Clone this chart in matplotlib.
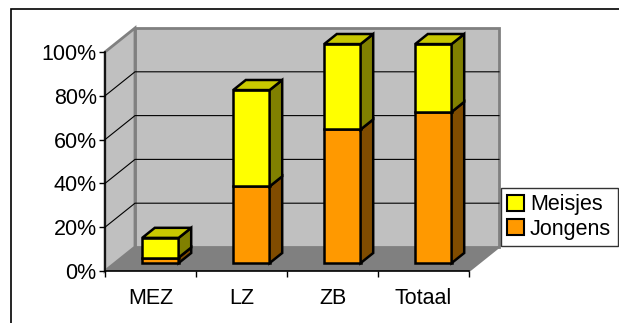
import numpy as np
import matplotlib.pyplot as plt
from matplotlib.patches import Polygon, Rectangle, Patch

plt.rcParams['font.family'] = ['Liberation Sans', 'DejaVu Sans']

categories = ['MEZ', 'LZ', 'ZB', 'Totaal']
jongens = [2.5, 35, 61, 69]
meisjes = [9, 44, 39, 31]
yticks = [0, 20, 40, 60, 80, 100]

yellow = ['#FFFF00', '#808000', '#C8C800']   # front, side, top
orange = ['#FF9900', '#804C00', '#C07300']
wall = '#C0C0C0'
floor = '#808080'
fs = 15.5

W, H = 619, 323
fig = plt.figure(figsize=(W / 100, H / 100), dpi=100)

# outer chart border
fig.patches.append(Rectangle((11 / W, -0.1), 1.2, 1.1 - 9 / H, transform=fig.transFigure,
                             fill=False, ec='black', lw=1.2))

# front plane of the plot: pixel box of the axes
left, right, bottom, top = 105, 469, 271, 52
ax = fig.add_axes([left / W, (H - bottom) / H, (right - left) / W, (bottom - top) / H])
n = len(categories)
ax.set_xlim(0, n)
ax.set_ylim(0, 100)

# depth of the box in data units (30 px right, 24 px up)
DX = n * 30 / (right - left)
DY = 100 * 24 / (bottom - top)


def poly(pts, fc, ec='none', lw=0, z=1):
    ax.add_patch(Polygon(pts, closed=True, fc=fc, ec=ec, lw=lw, zorder=z, clip_on=False,
                         joinstyle='miter'))


# walls and floor
poly([(DX, DY), (n + DX, DY), (n + DX, 100 + DY), (DX, 100 + DY)], wall, '#808080', 2, 1)
poly([(0, 0), (DX, DY), (DX, 100 + DY), (0, 100)], wall, '#808080', 2, 1)
poly([(0, 0), (n, 0), (n + DX, DY), (DX, DY)], floor, 'none', 0, 1.5)
ax.plot([n, n + DX], [0, DY], color='#808080', lw=1.5, clip_on=False, zorder=1.6)

# gridlines on the side and back walls
for v in yticks[1:-1]:
    ax.plot([0, DX, n + DX], [v, v + DY, v + DY], color='black', lw=0.8,
            clip_on=False, zorder=2, solid_joinstyle='miter')

# stacked 3d columns
f0, f1 = 0.33, 0.75
bw = 0.4
for i in range(n):
    x0 = i + 0.5 - bw / 2 + f0 * DX
    y0 = f0 * DY
    ddx = (f1 - f0) * DX
    ddy = (f1 - f0) * DY
    segs = [(jongens[i], orange), (meisjes[i], yellow)]
    base = 0
    for k, (val, cols) in enumerate(segs):
        lo, hi = y0 + base, y0 + base + val
        poly([(x0, lo), (x0 + bw, lo), (x0 + bw, hi), (x0, hi)], cols[0], 'black', 1.8, 5)
        poly([(x0 + bw, lo), (x0 + bw + ddx, lo + ddy), (x0 + bw + ddx, hi + ddy),
              (x0 + bw, hi)], cols[1], 'black', 1.8, 5)
        if k == len(segs) - 1:
            poly([(x0, hi), (x0 + bw, hi), (x0 + bw + ddx, hi + ddy), (x0 + ddx, hi + ddy)],
                 cols[2], 'black', 1.8, 5)
        base += val

# axes lines, ticks and labels
for s in ['top', 'right']:
    ax.spines[s].set_visible(False)
ax.spines['left'].set_linewidth(1.2)
ax.spines['bottom'].set_linewidth(1.2)
ax.spines['left'].set_zorder(3)
ax.spines['bottom'].set_zorder(3)
ax.patch.set_visible(False)
ax.set_yticks(yticks)
ax.set_yticklabels([f'{v}%' for v in yticks], fontsize=fs)
ax.set_xticks(np.arange(n + 1))
ax.set_xticklabels([])
ax.set_xticks(np.arange(n) + 0.5, minor=True)
ax.set_xticklabels(categories, minor=True, fontsize=fs)
ax.tick_params(axis='x', which='minor', length=0, pad=12)
ax.tick_params(axis='x', which='major', length=4, width=1)
ax.tick_params(axis='y', length=4, width=1, pad=2)

handles = [Patch(fc=yellow[0], ec='black', lw=1.5, label='Meisjes'),
           Patch(fc=orange[0], ec='black', lw=1.5, label='Jongens')]
leg = fig.legend(handles=handles, loc='upper left', bbox_to_anchor=(501 / W, 1 - 188 / H),
                 fontsize=fs, frameon=True, fancybox=False, edgecolor='black',
                 handlelength=0.75, handleheight=0.75, handletextpad=0.3,
                 borderpad=0.3, labelspacing=0.15, borderaxespad=0)
leg.get_frame().set_linewidth(1)

fig.savefig('out.png', dpi=100)
